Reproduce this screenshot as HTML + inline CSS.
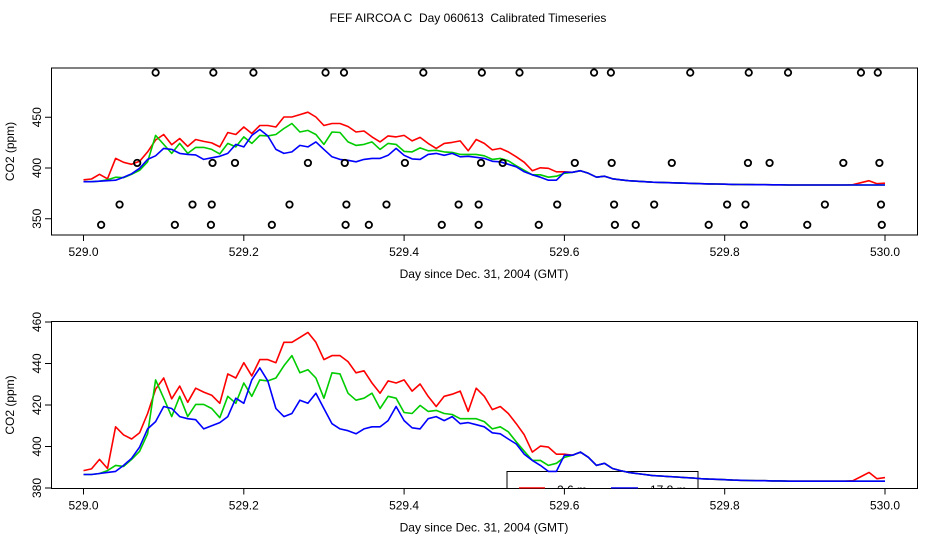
<!DOCTYPE html>
<html><head><meta charset="utf-8"><style>
html,body{margin:0;padding:0;background:#fff;}
svg{display:block;font-family:"Liberation Sans",sans-serif;}
</style></head><body>
<svg id="chart" width="936" height="540" viewBox="0 0 936 540">
<rect width="936" height="540" fill="#fff"/>
<text x="468" y="22" text-anchor="middle" font-size="12" style="white-space:pre" xml:space="preserve">FEF AIRCOA C  Day 060613  Calibrated Timeseries</text>
<defs>
<clipPath id="clipTop"><rect x="51.5" y="68" width="866" height="167"/></clipPath>
<clipPath id="clipBot"><rect x="51.5" y="321.5" width="866" height="167"/></clipPath>
</defs>
<g id="top"></g>
<g id="bot"></g>
</svg>
<script>
const dayStart = 529.0, dayStep = 0.01;
const redSeries = [388.4,389.2,393.8,389.4,409.5,405.6,403.6,406.6,415.9,427.6,433,423,429.1,421.3,428.1,426.2,424.7,420.8,435,433,440.4,434,441.9,441.9,440.4,450.2,450.2,452.6,455,450.2,441.9,443.8,443.8,440.9,435.5,436.5,430.6,425.7,431.6,430.6,432.1,426.7,430.1,424.2,419.3,424.2,425.2,426.7,416.9,428.1,424.2,417.8,419.3,415.9,411,405.6,397.3,400.2,399.7,396.3,396.3,395.8,397.3,394.8,390.9,391.9,389.4,388.4,387.5,387,386.5,386,385.8,385.5,385.3,385,384.8,384.5,384.3,384.2,384,383.8,383.7,383.6,383.5,383.5,383.4,383.4,383.3,383.3,383.3,383.3,383.3,383.3,383.3,383.3,383.5,385.5,387.5,384.5,385];
const greenSeries = [386.5,386.5,387,388.4,390.9,390.4,393.8,397.7,406.1,432.1,423.3,414.4,424.2,414.4,420.3,420.3,418.3,413.9,424.2,420.8,430.6,424.2,432.1,431.6,433,438.9,443.8,435.5,437,433,423.3,435.5,435,425.7,422.3,423.3,425.7,418.3,424.2,423.3,416.4,415.9,419.8,416.9,417.4,415.9,415.4,413.4,413.4,413.4,412,408.5,409.5,407.1,402.2,397.7,393.3,393.3,390.9,391.9,394.8,395.8,397.3,394.8,390.9,391.9,389.4,388.4,387.5,387,386.5,386,385.8,385.5,385.3,385,384.8,384.5,384.3,384.2,384,383.8,383.7,383.6,383.5,383.5,383.4,383.4,383.3,383.3,383.3,383.3,383.3,383.3,383.3,383.3,383.3,383.3,383.3,383.3,383.3];
const blueSeries = [386.5,386.5,387,387.5,388,390.9,394.3,399.7,408.5,412,419.3,418.3,414.4,413.4,412.9,408.5,410,411.5,414.4,423.3,420.8,432.1,437.9,431.6,418.3,414.4,415.9,422.3,420.8,425.7,418.3,411,408.5,407.6,406.1,408.5,409.5,409.5,412.5,419.3,412.5,409,408.5,413.4,414.4,412.5,414.4,411,411.5,410.5,409.5,406.6,406.1,403.6,401.2,396.3,393.3,390.9,388,388,395.8,395.8,397.3,394.8,390.9,391.9,389.4,388.4,387.5,387,386.5,386,385.8,385.5,385.3,385,384.8,384.5,384.3,384.2,384,383.8,383.7,383.6,383.5,383.5,383.4,383.4,383.3,383.3,383.3,383.3,383.3,383.3,383.3,383.3,383.3,383.3,383.3,383.3,383.3];
const circleDays = [529.090,529.162,529.212,529.302,529.325,529.424,529.497,529.544,529.637,529.658,529.757,529.830,529.879,529.970,529.991,
 529.067,529.161,529.189,529.280,529.326,529.401,529.496,529.523,529.613,529.659,529.734,529.829,529.856,529.948,529.993,
 529.045,529.136,529.160,529.257,529.328,529.378,529.468,529.493,529.591,529.662,529.712,529.803,529.826,529.925,529.995,
 529.022,529.114,529.159,529.235,529.327,529.356,529.447,529.493,529.568,529.663,529.689,529.780,529.824,529.903,529.996];
const circleVals = [494,494,494,494,494,494,494,494,494,494,494,494,494,494,494,
 405,405,405,405,405,405,405,405,405,405,405,405,405,405,405,
 364,364,364,364,364,364,364,364,364,364,364,364,364,364,364,
 344,344,344,344,344,344,344,344,344,344,344,344,344,344,344];
const xTicks = [529.0,529.2,529.4,529.6,529.8,530.0];
const xTickLabels = ["529.0","529.2","529.4","529.6","529.8","530.0"];
const topYTicks = [350,400,450];
const botYTicks = [380,400,420,440,460];
const legendLabels = ["2.6 m","17.8 m"];

const NS = "http://www.w3.org/2000/svg";
function mk(tag, attrs, parent){const e=document.createElementNS(NS,tag);for(const k in attrs)e.setAttribute(k,attrs[k]);parent.appendChild(e);return e;}
const xs = d => 83.5 + (d-529)*801.5;
const yTop = p => 168 - (p-400)*1.015;
const yBot = p => 322 + (460-p)*2.075;

function panel(g, y0, y1, ys, yticks, clipId, withCircles, withLegend){
  const box = mk('rect',{x:51.5,y:y0,width:866,height:y1-y0,fill:'none',stroke:'#000','stroke-width':1},g);
  
  
  xTicks.forEach((t,i)=>{
    const l = mk('line',{x1:xs(t),x2:xs(t),y1:y1,y2:y1+6,stroke:'#000'},g);
    
    
    const tx = mk('text',{x:xs(t),y:y1+21,'text-anchor':'middle','font-size':12},g);
    tx.textContent = xTickLabels[i];
    
    
  });
  const xt = mk('text',{x:484,y:y1+43,'text-anchor':'middle','font-size':12},g);
  xt.textContent = 'Day since Dec. 31, 2004 (GMT)';
  
  
  yticks.forEach(t=>{
    const l = mk('line',{x1:45,x2:51.5,y1:ys(t),y2:ys(t),stroke:'#000'},g);
    
    
    const tx = mk('text',{x:0,y:0,'text-anchor':'middle','font-size':12,transform:`translate(41,${ys(t)}) rotate(-90)`},g);
    tx.textContent = String(t);
    
    
  });
  const yt = mk('text',{x:0,y:0,'text-anchor':'middle','font-size':12,transform:`translate(14,${(y0+y1)/2}) rotate(-90)`},g);
  yt.textContent = 'CO2 (ppm)';
  
  
  const cg = mk('g',{'clip-path':`url(#${clipId})`},g);
  if(withLegend){
    const lg = mk('g',{},cg);
    
    
    mk('rect',{x:507,y:471.5,width:191,height:40,fill:'none',stroke:'#000'},lg);
    mk('line',{x1:519,x2:545,y1:488,y2:488,stroke:'#ff0000','stroke-width':1.6},lg);
    mk('line',{x1:611,x2:638,y1:488,y2:488,stroke:'#0000ff','stroke-width':1.6},lg);
    const t1 = mk('text',{x:557,y:494,'font-size':12},lg); t1.textContent=legendLabels[0];
    
    
    const t2 = mk('text',{x:650,y:494,'font-size':12},lg); t2.textContent=legendLabels[1];
    
    
  }
  [[redSeries,'#ff0000','series-2-6m'],[greenSeries,'#00cc00','series-green'],[blueSeries,'#0000ff','series-17-8m']].forEach(([arr,col,name])=>{
    const pts = arr.map((v,i)=>xs(dayStart+i*dayStep).toFixed(1)+','+ys(v).toFixed(1)).join(' ');
    const pl = mk('polyline',{points:pts,fill:'none',stroke:col,'stroke-width':1.6,'stroke-linejoin':'round'},cg);
    
    
  });
  if(withCircles){
    circleDays.forEach((d,i)=>{
      const c = mk('circle',{cx:xs(d),cy:ys(circleVals[i]),r:3.2,fill:'none',stroke:'#000','stroke-width':1.8},cg);
      
      
    });
  }
}
panel(document.getElementById('top'),68,235,yTop,topYTicks,'clipTop',true,false);
panel(document.getElementById('bot'),321.5,488.5,yBot,botYTicks,'clipBot',false,true);
</script>
</body></html>
